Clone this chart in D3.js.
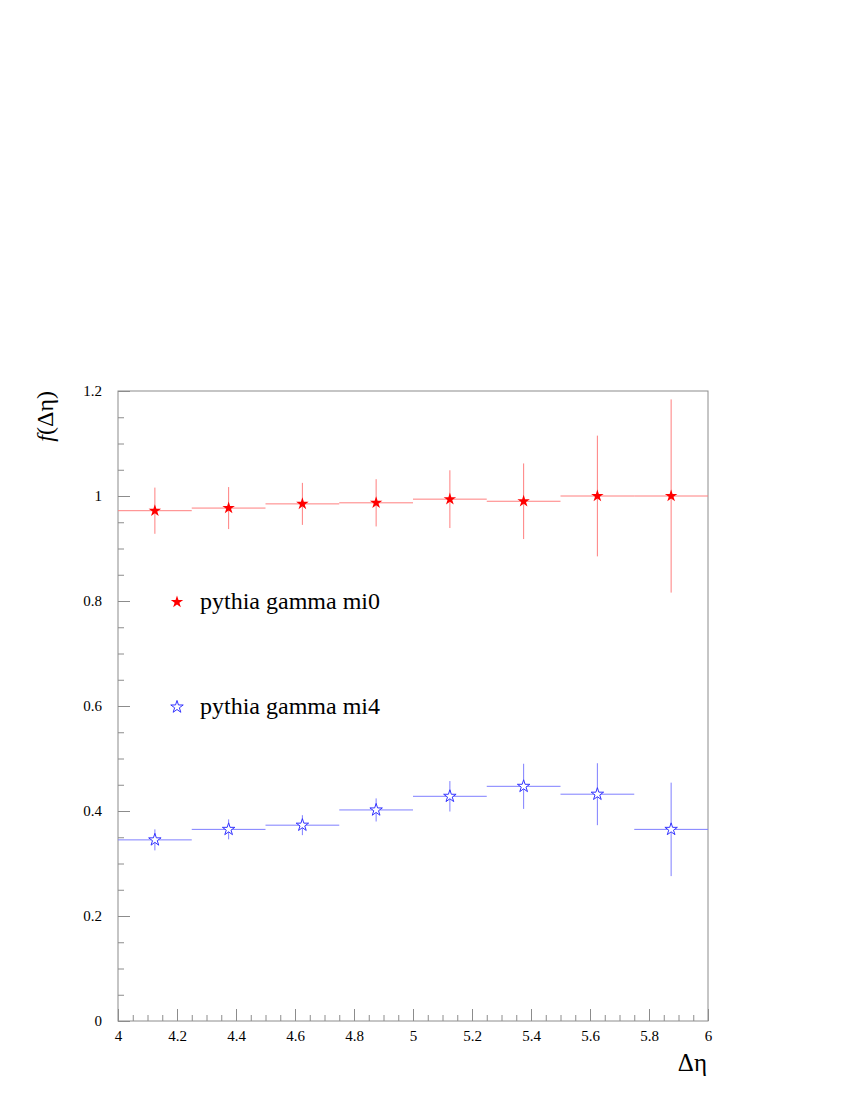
<!DOCTYPE html>
<html><head><meta charset="utf-8">
<script src="https://cdn.jsdelivr.net/npm/d3@7"></script>
</head><body style="margin:0">
<svg id="c" width="850" height="1100" style="font-family:'Liberation Serif',serif"></svg>
<script>
const binEdges = [4.0,4.25,4.5,4.75,5.0,5.25,5.5,5.75,6.0];
const mi0Values = [0.972,0.977,0.985,0.987,0.994,0.990,1.000,1.000];
const mi0Errors = [0.044,0.040,0.040,0.045,0.055,0.072,0.115,0.184];
const mi4Values = [0.345,0.365,0.373,0.402,0.428,0.447,0.432,0.365];
const mi4Errors = [0.020,0.019,0.019,0.022,0.029,0.043,0.059,0.089];
const seriesNames = ["pythia gamma mi0","pythia gamma mi4"];
const xMajorTicks = [4,4.2,4.4,4.6,4.8,5,5.2,5.4,5.6,5.8,6];
const yMajorTicks = [0,0.2,0.4,0.6,0.8,1,1.2];

const FONT = "Liberation Serif";
const svg = d3.select("#c");
const x = d3.scaleLinear().domain([4,6]).range([118,708]);
const y = d3.scaleLinear().domain([0,1.2]).range([1021,391]);
const frameColor = "#8c8c8c";

const xMinor = d3.range(4,6.0001,0.05);
const yMinor = d3.range(0,1.2001,0.05);

function styleAxis(g){
  g.select(".domain").remove();
  g.attr("font-family", null);
  g.selectAll("line").attr("stroke",frameColor);
  g.selectAll("text").style("font-family",FONT).style("font-size","15px").attr("fill","#000");
}

svg.append("g").attr("transform","translate(0,1021)")
  .call(d3.axisBottom(x).tickValues(xMinor).tickSizeInner(-6).tickSizeOuter(0).tickFormat(""))
  .call(styleAxis);
svg.append("g").attr("transform","translate(118,0)")
  .call(d3.axisLeft(y).tickValues(yMinor).tickSizeInner(-6).tickSizeOuter(0).tickFormat(""))
  .call(styleAxis);
svg.append("g").attr("transform","translate(0,1021)")
  .call(d3.axisBottom(x).tickValues(xMajorTicks).tickSizeInner(-12).tickSizeOuter(0).tickPadding(9).tickFormat(d=>String(d)))
  .call(styleAxis);
svg.append("g").attr("transform","translate(118,0)")
  .call(d3.axisLeft(y).tickValues(yMajorTicks).tickSizeInner(-12).tickSizeOuter(0).tickPadding(16).tickFormat(d=>String(d)))
  .call(styleAxis);

svg.append("rect").attr("x",x(4)).attr("y",y(1.2)).attr("width",x(6)-x(4)).attr("height",y(0)-y(1.2))
  .attr("fill","none").attr("stroke",frameColor).attr("stroke-width",1);

const star = d3.symbol().type(d3.symbolStar).size(48);

function drawSeries(vals, errs, lineColor, markColor, filled){
  const g = svg.append("g");
  const data = vals.map((v,i)=>({x0:binEdges[i],x1:binEdges[i+1],xc:(binEdges[i]+binEdges[i+1])/2,v,e:errs[i]}));
  g.selectAll(".h").data(data).enter().append("line")
    .attr("x1",d=>x(d.x0)).attr("x2",d=>x(d.x1)).attr("y1",d=>y(d.v)).attr("y2",d=>y(d.v))
    .attr("stroke",lineColor).attr("stroke-width",1);
  g.selectAll(".v").data(data).enter().append("line")
    .attr("x1",d=>x(d.xc)).attr("x2",d=>x(d.xc)).attr("y1",d=>y(d.v+d.e)).attr("y2",d=>y(d.v-d.e))
    .attr("stroke",lineColor).attr("stroke-width",1);
  g.selectAll(".m").data(data).enter().append("path")
    .attr("d",star).attr("transform",d=>`translate(${x(d.xc)},${y(d.v)})`)
    .attr("fill",filled?markColor:"#fff").attr("stroke",markColor).attr("stroke-width",filled?0:1);
}
drawSeries(mi0Values, mi0Errors, "#ff7f7f", "#ff0000", true);
drawSeries(mi4Values, mi4Errors, "#7f7fff", "#3333ff", false);

const leg = [{name:seriesNames[0],color:"#ff0000",filled:true,yv:0.8},{name:seriesNames[1],color:"#3333ff",filled:false,yv:0.6}];
leg.forEach(l=>{
  svg.append("path").attr("d",star).attr("transform",`translate(177,${y(l.yv)+1})`)
    .attr("fill",l.filled?l.color:"#fff").attr("stroke",l.color).attr("stroke-width",l.filled?0:1);
  svg.append("text").attr("x",200).attr("y",y(l.yv)+8)
    .style("font-family",FONT).style("font-size","24px")
    .attr("fill","#000").text(l.name);
});

svg.append("text").attr("x",707).attr("y",1071).attr("text-anchor","end")
  .style("font-family",FONT).style("font-size","25px").text("Δη");
svg.append("text").attr("transform","translate(53,391) rotate(-90)").attr("text-anchor","end")
  .style("font-family",FONT).style("font-size","24px")
  .call(t=>{t.append("tspan").style("font-style","italic").text("f"); t.append("tspan").text("(Δη)");});
</script>
</body></html>
